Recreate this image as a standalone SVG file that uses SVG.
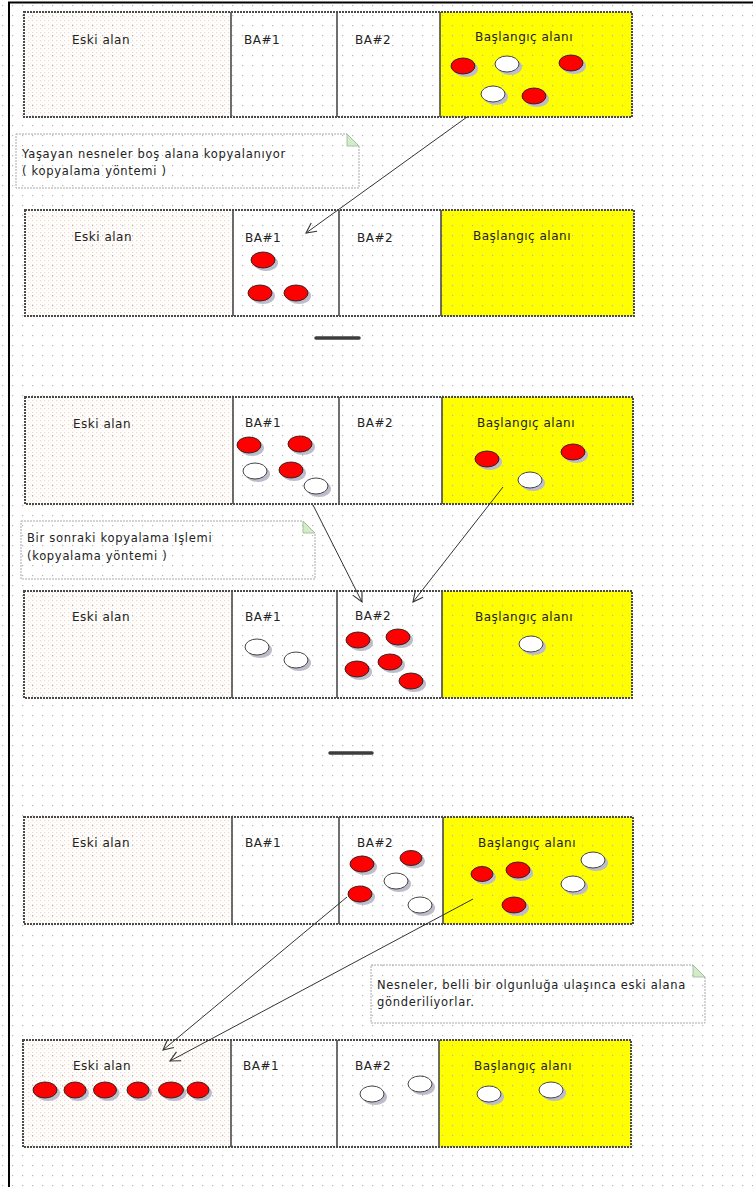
<svg xmlns="http://www.w3.org/2000/svg" width="753" height="1187" viewBox="0 0 753 1187">
  <defs>
    <!-- grid of grey dots over the canvas -->
    <pattern id="grid" x="2" y="5" width="10" height="10" patternUnits="userSpaceOnUse">
      <rect x="0" y="0" width="1.2" height="1.2" fill="#b4b4b4"/>
    </pattern>
    <!-- fine pink/yellow stipple for the old generation -->
    <pattern id="stipple" x="0" y="0" width="4" height="4" patternUnits="userSpaceOnUse">
      <rect width="4" height="4" fill="#ffffff"/>
      <rect x="0" y="0" width="1.2" height="1.2" fill="#f9d2d2"/>
      <rect x="2" y="2" width="1.2" height="1.2" fill="#f9f3d4"/>
    </pattern>
    <marker id="open" viewBox="0 0 12 12" refX="11" refY="6" markerWidth="12" markerHeight="12" markerUnits="userSpaceOnUse" orient="auto">
      <path d="M1,1 L11,6 L1,11" fill="none" stroke="#333" stroke-width="1.1"/>
    </marker>
  </defs>
  <style>
    .old { fill: url(#stipple); }
    .surv { fill: #ffffff; }
    .eden { fill: #ffff00; }
    .frame { fill: none; stroke: #4a4a4a; stroke-width: 2; stroke-dasharray: 2 1; }
    .div { fill: none; stroke: #4a4a4a; stroke-width: 1.6; }
    .lbl { font-family: "DejaVu Sans", Verdana, sans-serif; font-size: 12px; letter-spacing: 0.5px; fill: #222; }
    .note { fill: none; stroke: #a8a8a8; stroke-width: 1; stroke-dasharray: 2 1; }
    .fold { fill: #d3ecc8; stroke: #9ab59a; stroke-width: 0.8; }
    .ntxt { font-family: "DejaVu Sans", Verdana, sans-serif; font-size: 11.5px; letter-spacing: 0.7px; fill: #222; }
    .shadow { fill: #bdbccb; }
    .live { fill: #ff0000; stroke: #202020; stroke-width: 0.9; }
    .dead { fill: #ffffff; stroke: #303030; stroke-width: 0.9; }
    .edge { fill: none; stroke: #333; stroke-width: 1; }
    .bar { stroke: #3c3c3c; stroke-width: 3.5; stroke-linecap: round; }
  </style>

  <rect width="753" height="1187" fill="#ffffff"/>

  <!-- area fills -->
  <g id="fills">
    <rect class="old" x="24" y="12" width="207" height="105"/>
    <rect class="eden" x="440" y="12" width="192" height="105"/>
    <rect class="old" x="25" y="210" width="208" height="106"/>
    <rect class="eden" x="441" y="210" width="193" height="106"/>
    <rect class="old" x="25" y="397" width="208" height="107"/>
    <rect class="eden" x="442" y="397" width="191" height="107"/>
    <rect class="old" x="24" y="591" width="208" height="107"/>
    <rect class="eden" x="442" y="591" width="190" height="107"/>
    <rect class="old" x="24" y="817" width="208" height="107"/>
    <rect class="eden" x="443" y="817" width="190" height="107"/>
    <rect class="old" x="23" y="1040" width="208" height="107"/>
    <rect class="eden" x="439" y="1040" width="192" height="107"/>
  </g>

  <rect width="753" height="1187" fill="url(#grid)"/>

  <!-- outer frame edges -->
  <path d="M9,1187 V2.5 H753" fill="none" stroke="#000" stroke-width="2"/>

  <!-- heap snapshot 1 -->
  <g id="heap1">
    <rect class="frame" x="24" y="12" width="608" height="105"/>
    <path class="div" d="M231,12 V117 M337,12 V117 M440,12 V117"/>
    <text class="lbl" x="72" y="44">Eski alan</text>
    <text class="lbl" x="244" y="44">BA#1</text>
    <text class="lbl" x="355" y="44">BA#2</text>
    <text class="lbl" x="475" y="41">Başlangıç alanı</text>
    <g id="heap1-objects">
      <ellipse class="shadow" cx="466" cy="69" rx="12" ry="8"/><ellipse class="live" cx="463" cy="66" rx="12" ry="8"/>
      <ellipse class="shadow" cx="510" cy="67" rx="12" ry="8"/><ellipse class="dead" cx="507" cy="64" rx="12" ry="8"/>
      <ellipse class="shadow" cx="574" cy="66" rx="12" ry="8"/><ellipse class="live" cx="571" cy="63" rx="12" ry="8"/>
      <ellipse class="shadow" cx="496" cy="97" rx="12" ry="8"/><ellipse class="dead" cx="493" cy="94" rx="12" ry="8"/>
      <ellipse class="shadow" cx="537" cy="99" rx="12" ry="8"/><ellipse class="live" cx="534" cy="96" rx="12" ry="8"/>
    </g>
  </g>

  <!-- note: copying survivors -->
  <g id="note1">
    <path class="note" d="M16,134 H347 L359,146 V188 H16 Z"/>
    <path class="fold" d="M347,134 V146 H359 Z"/>
    <text class="ntxt" x="22" y="158">Yaşayan nesneler boş alana kopyalanıyor</text>
    <text class="ntxt" x="22" y="175">( kopyalama yöntemi )</text>
  </g>

  <!-- heap snapshot 2 -->
  <g id="heap2">
    <rect class="frame" x="25" y="210" width="609" height="106"/>
    <path class="div" d="M233,210 V316 M339,210 V316 M441,210 V316"/>
    <text class="lbl" x="74" y="241">Eski alan</text>
    <text class="lbl" x="245" y="242">BA#1</text>
    <text class="lbl" x="357" y="242">BA#2</text>
    <text class="lbl" x="473" y="240">Başlangıç alanı</text>
    <g id="heap2-objects">
      <ellipse class="shadow" cx="266" cy="263" rx="12" ry="8"/><ellipse class="live" cx="263" cy="260" rx="12" ry="8"/>
      <ellipse class="shadow" cx="263" cy="296" rx="12" ry="8"/><ellipse class="live" cx="260" cy="293" rx="12" ry="8"/>
      <ellipse class="shadow" cx="299" cy="296" rx="12" ry="8"/><ellipse class="live" cx="296" cy="293" rx="12" ry="8"/>
    </g>
  </g>

  <line id="bar1" class="bar" x1="316" y1="338" x2="359" y2="338"/>

  <!-- heap snapshot 3 -->
  <g id="heap3">
    <rect class="frame" x="25" y="397" width="608" height="107"/>
    <path class="div" d="M233,397 V504 M339,397 V504 M442,397 V504"/>
    <text class="lbl" x="73" y="428">Eski alan</text>
    <text class="lbl" x="245" y="427">BA#1</text>
    <text class="lbl" x="357" y="427">BA#2</text>
    <text class="lbl" x="477" y="427">Başlangıç alanı</text>
    <g id="heap3-objects">
      <ellipse class="shadow" cx="252" cy="448" rx="12" ry="8"/><ellipse class="live" cx="249" cy="445" rx="12" ry="8"/>
      <ellipse class="shadow" cx="303" cy="447" rx="12" ry="8"/><ellipse class="live" cx="300" cy="444" rx="12" ry="8"/>
      <ellipse class="shadow" cx="258" cy="474" rx="12" ry="8"/><ellipse class="dead" cx="255" cy="471" rx="12" ry="8"/>
      <ellipse class="shadow" cx="294" cy="473" rx="12" ry="8"/><ellipse class="live" cx="291" cy="470" rx="12" ry="8"/>
      <ellipse class="shadow" cx="319" cy="489" rx="12" ry="8"/><ellipse class="dead" cx="316" cy="486" rx="12" ry="8"/>
      <ellipse class="shadow" cx="490" cy="462" rx="12" ry="8"/><ellipse class="live" cx="487" cy="459" rx="12" ry="8"/>
      <ellipse class="shadow" cx="576" cy="455" rx="12" ry="8"/><ellipse class="live" cx="573" cy="452" rx="12" ry="8"/>
      <ellipse class="shadow" cx="533" cy="483" rx="12" ry="8"/><ellipse class="dead" cx="530" cy="480" rx="12" ry="8"/>
    </g>
  </g>

  <!-- note: next copy pass -->
  <g id="note2">
    <path class="note" d="M21,521 H303 L315,533 V579 H21 Z"/>
    <path class="fold" d="M303,521 V533 H315 Z"/>
    <text class="ntxt" x="27" y="542">Bir sonraki kopyalama Işlemi</text>
    <text class="ntxt" x="27" y="560">(kopyalama yöntemi )</text>
  </g>

  <!-- heap snapshot 4 -->
  <g id="heap4">
    <rect class="frame" x="24" y="591" width="608" height="107"/>
    <path class="div" d="M232,591 V698 M337,591 V698 M442,591 V698"/>
    <text class="lbl" x="72" y="621">Eski alan</text>
    <text class="lbl" x="245" y="621">BA#1</text>
    <text class="lbl" x="355" y="620">BA#2</text>
    <text class="lbl" x="475" y="621">Başlangıç alanı</text>
    <g id="heap4-objects">
      <ellipse class="shadow" cx="260" cy="650" rx="12" ry="8"/><ellipse class="dead" cx="257" cy="647" rx="12" ry="8"/>
      <ellipse class="shadow" cx="299" cy="663" rx="12" ry="8"/><ellipse class="dead" cx="296" cy="660" rx="12" ry="8"/>
      <ellipse class="shadow" cx="361" cy="643" rx="12" ry="8"/><ellipse class="live" cx="358" cy="640" rx="12" ry="8"/>
      <ellipse class="shadow" cx="401" cy="640" rx="12" ry="8"/><ellipse class="live" cx="398" cy="637" rx="12" ry="8"/>
      <ellipse class="shadow" cx="360" cy="672" rx="12" ry="8"/><ellipse class="live" cx="357" cy="669" rx="12" ry="8"/>
      <ellipse class="shadow" cx="393" cy="665" rx="12" ry="8"/><ellipse class="live" cx="390" cy="662" rx="12" ry="8"/>
      <ellipse class="shadow" cx="414" cy="684" rx="12" ry="8"/><ellipse class="live" cx="411" cy="681" rx="12" ry="8"/>
      <ellipse class="shadow" cx="534" cy="647" rx="12" ry="8"/><ellipse class="dead" cx="531" cy="644" rx="12" ry="8"/>
    </g>
  </g>

  <line id="bar2" class="bar" x1="330" y1="753" x2="372" y2="753"/>

  <!-- heap snapshot 5 -->
  <g id="heap5">
    <rect class="frame" x="24" y="817" width="609" height="107"/>
    <path class="div" d="M232,817 V924 M339,817 V924 M443,817 V924"/>
    <text class="lbl" x="72" y="847">Eski alan</text>
    <text class="lbl" x="245" y="847">BA#1</text>
    <text class="lbl" x="357" y="847">BA#2</text>
    <text class="lbl" x="478" y="847">Başlangıç alanı</text>
    <g id="heap5-objects">
      <ellipse class="shadow" cx="365" cy="867" rx="12" ry="8"/><ellipse class="live" cx="362" cy="864" rx="12" ry="8"/>
      <ellipse class="shadow" cx="414" cy="861" rx="11" ry="7.5"/><ellipse class="live" cx="411" cy="858" rx="11" ry="7.5"/>
      <ellipse class="shadow" cx="399" cy="884" rx="12" ry="8"/><ellipse class="dead" cx="396" cy="881" rx="12" ry="8"/>
      <ellipse class="shadow" cx="363" cy="897" rx="12" ry="8"/><ellipse class="live" cx="360" cy="894" rx="12" ry="8"/>
      <ellipse class="shadow" cx="423" cy="908" rx="12" ry="8"/><ellipse class="dead" cx="420" cy="905" rx="12" ry="8"/>
      <ellipse class="shadow" cx="485" cy="877" rx="11" ry="7.5"/><ellipse class="live" cx="482" cy="874" rx="11" ry="7.5"/>
      <ellipse class="shadow" cx="521" cy="873" rx="12" ry="8"/><ellipse class="live" cx="518" cy="870" rx="12" ry="8"/>
      <ellipse class="shadow" cx="517" cy="908" rx="12" ry="8"/><ellipse class="live" cx="514" cy="905" rx="12" ry="8"/>
      <ellipse class="shadow" cx="596" cy="863" rx="12" ry="8"/><ellipse class="dead" cx="593" cy="860" rx="12" ry="8"/>
      <ellipse class="shadow" cx="576" cy="887" rx="12" ry="8"/><ellipse class="dead" cx="573" cy="884" rx="12" ry="8"/>
    </g>
  </g>

  <!-- note: promotion to the old generation -->
  <g id="note3">
    <path class="note" d="M371,965 H693 L705,977 V1023 H371 Z"/>
    <path class="fold" d="M693,965 V977 H705 Z"/>
    <text class="ntxt" x="377" y="989">Nesneler, belli bir olgunluğa ulaşınca eski alana</text>
    <text class="ntxt" x="377" y="1006">gönderiliyorlar.</text>
  </g>

  <!-- heap snapshot 6 -->
  <g id="heap6">
    <rect class="frame" x="23" y="1040" width="608" height="107"/>
    <path class="div" d="M231,1040 V1147 M337,1040 V1147 M439,1040 V1147"/>
    <text class="lbl" x="73" y="1070">Eski alan</text>
    <text class="lbl" x="243" y="1070">BA#1</text>
    <text class="lbl" x="355" y="1070">BA#2</text>
    <text class="lbl" x="474" y="1070">Başlangıç alanı</text>
    <g id="heap6-objects">
      <ellipse class="shadow" cx="48" cy="1093" rx="12" ry="8"/><ellipse class="live" cx="45" cy="1090" rx="12" ry="8"/>
      <ellipse class="shadow" cx="78" cy="1093" rx="11" ry="8"/><ellipse class="live" cx="75" cy="1090" rx="11" ry="8"/>
      <ellipse class="shadow" cx="108" cy="1093" rx="11.5" ry="8"/><ellipse class="live" cx="105" cy="1090" rx="11.5" ry="8"/>
      <ellipse class="shadow" cx="141" cy="1093" rx="11" ry="8"/><ellipse class="live" cx="138" cy="1090" rx="11" ry="8"/>
      <ellipse class="shadow" cx="174" cy="1093" rx="12.5" ry="8"/><ellipse class="live" cx="171" cy="1090" rx="12.5" ry="8"/>
      <ellipse class="shadow" cx="201" cy="1093" rx="11" ry="8"/><ellipse class="live" cx="198" cy="1090" rx="11" ry="8"/>
      <ellipse class="shadow" cx="375" cy="1097" rx="12" ry="8"/><ellipse class="dead" cx="372" cy="1094" rx="12" ry="8"/>
      <ellipse class="shadow" cx="423" cy="1087" rx="12" ry="8"/><ellipse class="dead" cx="420" cy="1084" rx="12" ry="8"/>
      <ellipse class="shadow" cx="492" cy="1097" rx="12" ry="8"/><ellipse class="dead" cx="489" cy="1094" rx="12" ry="8"/>
      <ellipse class="shadow" cx="554" cy="1093" rx="12" ry="8"/><ellipse class="dead" cx="551" cy="1090" rx="12" ry="8"/>
    </g>
  </g>

  <!-- connectors -->
  <g id="connectors">
    <line class="edge" x1="467" y1="117" x2="306" y2="233" marker-end="url(#open)"/>
    <line class="edge" x1="313" y1="505" x2="362" y2="602" marker-end="url(#open)"/>
    <line class="edge" x1="503" y1="487" x2="413" y2="602" marker-end="url(#open)"/>
    <line class="edge" x1="347" y1="897" x2="163" y2="1050" marker-end="url(#open)"/>
    <line class="edge" x1="473" y1="899" x2="170" y2="1061" marker-end="url(#open)"/>
  </g>
</svg>
